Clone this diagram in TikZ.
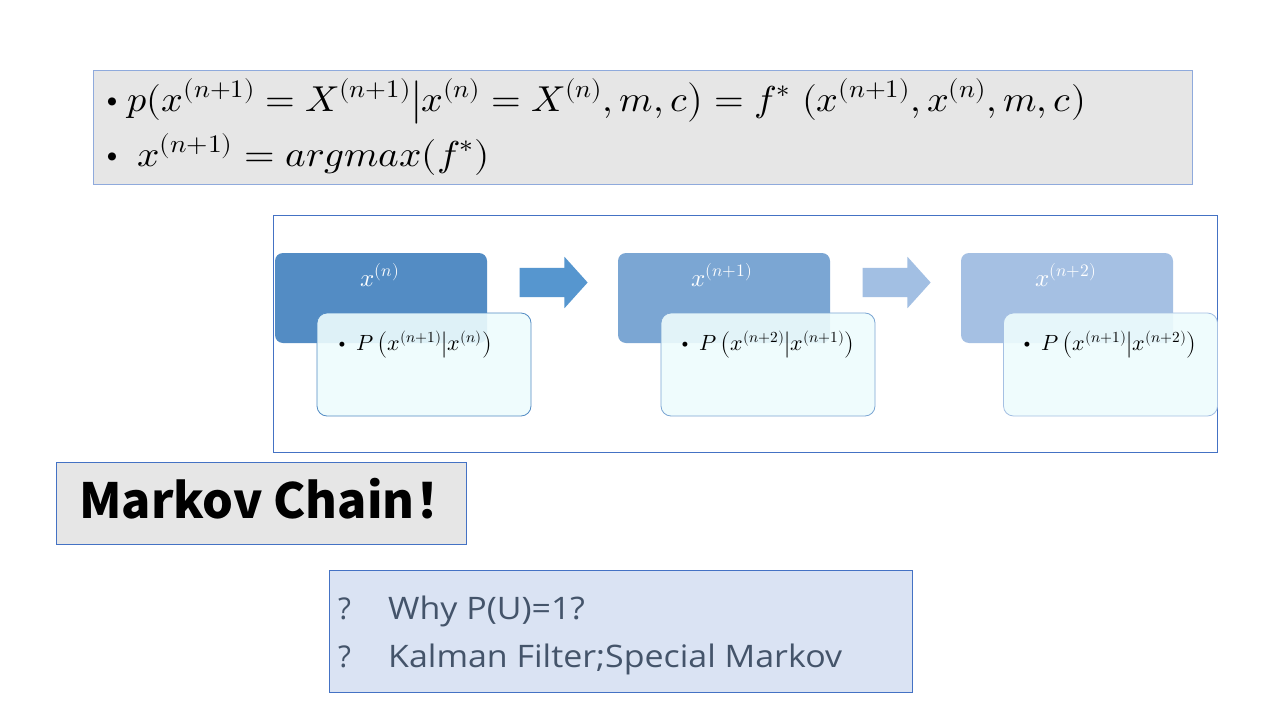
\documentclass[tikz,border=0pt]{standalone}
\usepackage{fontspec}
\usepackage{unicode-math}
\setmathfont{Latin Modern Math}
\newfontfamily\cjkfont{Noto Sans CJK SC}
\newfontfamily\qfont{Open Sans}
\usetikzlibrary{shapes.arrows}

\definecolor{panelgray}{RGB}{230,230,230}
\definecolor{edgelight}{RGB}{143,170,220}
\definecolor{edgeblue}{RGB}{68,114,196}
\definecolor{stepA}{RGB}{83,140,196}
\definecolor{stepB}{RGB}{123,166,211}
\definecolor{stepC}{RGB}{165,192,227}
\definecolor{arrowA}{RGB}{86,150,207}
\definecolor{arrowB}{RGB}{162,191,227}
\definecolor{notefill}{RGB}{238,252,253}
\definecolor{qfill}{RGB}{218,227,243}
\definecolor{qtext}{RGB}{68,84,106}

\tikzset{
  statebox/.style={draw=none, rounded corners=8pt, minimum width=212pt, minimum height=90pt,
    inner sep=0pt, text=white},
  notebox/.style={draw, line width=0.8pt, rounded corners=10pt, fill=notefill, fill opacity=0.9,
    text opacity=1, minimum width=214pt, minimum height=103pt, inner sep=0pt},
  blockarrow/.style={single arrow, draw=none, minimum height=68pt, minimum width=51pt,
    single arrow head extend=11pt, single arrow tip angle=96, inner xsep=0pt, inner ysep=14.5pt},
  panel/.style={draw, line width=0.8pt, inner sep=0pt},
  txt/.style={anchor=base west, inner sep=0pt},
}
\newcommand{\eqsize}{\fontsize{36}{42}\selectfont}
\newcommand{\notesize}{\fontsize{22}{26}\selectfont}
\newcommand{\labsize}{\fontsize{25}{28}\selectfont}
\newcommand{\qsize}{\fontsize{31}{36}\selectfont}

\begin{document}
\begin{tikzpicture}[x=1pt,y=-1pt]
\useasboundingbox (0,0) rectangle (1280,720);

% formula panel
\node[panel, draw=edgelight, fill=panelgray, minimum width=1099pt, minimum height=114pt]
  (formulas) at (642.5,127) {};
\node[txt] (bA) at (99,111) {\eqsize\textbullet};
\node[txt] (eqA) at (127,111)
  {\scalebox{1.06}[1]{\eqsize $p(x^{(n+1)}=X^{(n+1)}\big|x^{(n)}=X^{(n)},m,c\big)=f^{*}\ (x^{(n+1)},x^{(n)},m,c)$}};
\node[txt] (bB) at (99,166) {\eqsize\textbullet};
\node[txt] (eqB) at (137,166)
  {\scalebox{1.09}[1]{\eqsize $x^{(n+1)}=argmax(f^{*})$}};

% chain frame
\node[panel, draw=edgeblue, fill=white, minimum width=944pt, minimum height=237pt]
  (frame) at (745,333.5) {};

% states
\node[statebox, fill=stepA] (s1) at (381,298) {};
\node[statebox, fill=stepB] (s2) at (724,298) {};
\node[statebox, fill=stepC] (s3) at (1067,298) {};
\node[text=white, anchor=base, inner sep=0pt] (l1) at (380,286) {\labsize$x^{(n)}$};
\node[text=white, anchor=base, inner sep=0pt] (l2) at (722,286) {\labsize$x^{(n+1)}$};
\node[text=white, anchor=base, inner sep=0pt] (l3) at (1066,286) {\labsize$x^{(n+2)}$};

\node[notebox, draw=stepA] (n1) at (424,364.5) {};
\node[notebox, draw=stepB] (n2) at (768,364.5) {};
\node[notebox, draw=stepC] (n3) at (1110.5,364.5) {};
\node[txt] (t1) at (334,350)
  {\notesize\textbullet\ $P\left(x^{(n+1)}\middle|x^{(n)}\right)$};
\node[txt] (t2) at (677,350)
  {\notesize\textbullet\ $P\left(x^{(n+2)}\middle|x^{(n+1)}\right)$};
\node[txt] (t3) at (1019,350)
  {\notesize\textbullet\ $P\left(x^{(n+1)}\middle|x^{(n+2)}\right)$};

\node[blockarrow, fill=arrowA] (a1) at (547,282.5) {};
\node[blockarrow, fill=arrowB] (a2) at (890,282.5) {};

% title
\node[panel, draw=edgeblue, fill=panelgray, minimum width=410pt, minimum height=82pt]
  (titlebox) at (261,503) {};
\node[txt] (title) at (79,518)
  {\cjkfont\bfseries\fontsize{48.5}{56}\selectfont Markov Chain\kern1pt！};

% questions
\node[panel, draw=edgeblue, fill=qfill, minimum width=583pt, minimum height=122pt]
  (qbox) at (620.5,631) {};
\node[txt, text=qtext] (q1m) at (338,619) {\qfont\fontsize{30}{34}\selectfont ?};
\node[txt, text=qtext] (q1) at (388,619) {\scalebox{1.095}[1]{\qfont\qsize Why P(U)=1?}};
\node[txt, text=qtext] (q2m) at (338,667) {\qfont\fontsize{30}{34}\selectfont ?};
\node[txt, text=qtext] (q2) at (388,667) {\scalebox{1.095}[1]{\qfont\qsize Kalman Filter;Special Markov}};
\end{tikzpicture}
\end{document}
